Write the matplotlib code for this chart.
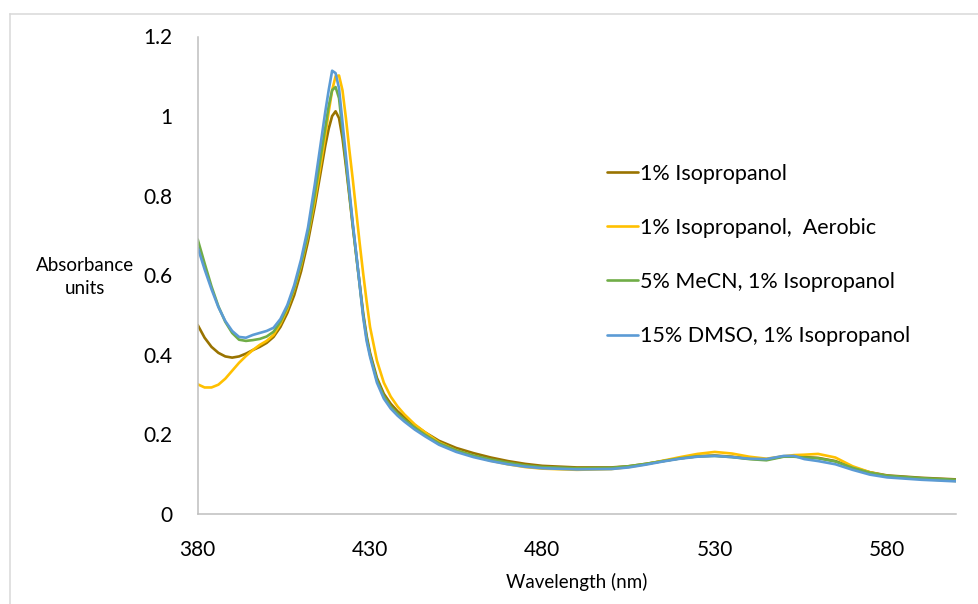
import matplotlib
matplotlib.use("Agg")
import matplotlib.pyplot as plt
from matplotlib.lines import Line2D
from matplotlib.ticker import FuncFormatter

plt.rcParams['font.family'] = ['Lato', 'DejaVu Sans']

# -----------------------------
# Data
# -----------------------------
wavelength = [380, 382, 384, 386, 388, 390, 392, 394, 396, 398, 400, 402, 404, 406, 408, 410, 412, 414, 416,
              417, 418, 419, 420, 421, 422, 423, 424, 425, 426, 427, 428, 429, 430,
              432, 434, 436, 438, 440, 443, 446,
              450, 455, 460, 465, 470, 475, 480, 490, 500,
              505, 510, 515, 520, 525, 530, 535, 540, 545, 550, 553, 556,
              560, 565, 570, 575, 580, 590, 600]

iso_1 = [0.475, 0.443, 0.420, 0.405, 0.396, 0.393, 0.396, 0.403, 0.412, 0.420, 0.430, 0.445, 0.470, 0.505, 0.550, 0.610, 0.685, 0.775, 0.875,
         0.925, 0.968, 1.000, 1.012, 0.995, 0.945, 0.875, 0.800, 0.722, 0.650, 0.578, 0.505, 0.448, 0.405,
         0.342, 0.302, 0.277, 0.258, 0.243, 0.223, 0.205,
         0.184, 0.166, 0.153, 0.142, 0.133, 0.126, 0.121, 0.117, 0.117,
         0.120, 0.126, 0.133, 0.140, 0.145, 0.147, 0.144, 0.139, 0.137, 0.145, 0.145, 0.143,
         0.141, 0.133, 0.117, 0.105, 0.097, 0.091, 0.087]

iso_aerobic = [0.326, 0.318, 0.318, 0.325, 0.340, 0.360, 0.380, 0.397, 0.412, 0.425, 0.435, 0.450, 0.478, 0.515, 0.565, 0.625, 0.700, 0.790, 0.895,
               0.950, 1.010, 1.065, 1.100, 1.102, 1.065, 0.995, 0.915, 0.840, 0.760, 0.680, 0.605, 0.535, 0.470,
               0.385, 0.330, 0.295, 0.270, 0.250, 0.225, 0.205,
               0.180, 0.160, 0.146, 0.134, 0.125, 0.118, 0.114, 0.111, 0.113,
               0.118, 0.125, 0.134, 0.143, 0.151, 0.156, 0.152, 0.144, 0.139, 0.145, 0.148, 0.149,
               0.151, 0.142, 0.120, 0.105, 0.095, 0.088, 0.083]

mecn_5 = [0.690, 0.630, 0.572, 0.522, 0.483, 0.455, 0.438, 0.435, 0.437, 0.440, 0.446, 0.458, 0.483, 0.520, 0.568, 0.630, 0.705, 0.805, 0.915,
          0.970, 1.025, 1.065, 1.073, 1.045, 0.965, 0.885, 0.805, 0.725, 0.650, 0.575, 0.500, 0.442, 0.400,
          0.336, 0.296, 0.270, 0.252, 0.237, 0.217, 0.199,
          0.178, 0.160, 0.147, 0.137, 0.129, 0.122, 0.118, 0.115, 0.116,
          0.120, 0.126, 0.133, 0.140, 0.145, 0.146, 0.143, 0.138, 0.135, 0.144, 0.144, 0.142,
          0.140, 0.132, 0.116, 0.104, 0.096, 0.090, 0.086]

dmso_15 = [0.670, 0.615, 0.565, 0.520, 0.485, 0.460, 0.445, 0.443, 0.450, 0.455, 0.460, 0.468, 0.490, 0.525, 0.575, 0.640, 0.720, 0.830, 0.950,
           1.010, 1.065, 1.114, 1.108, 1.070, 0.985, 0.900, 0.815, 0.730, 0.655, 0.575, 0.495, 0.435, 0.395,
           0.330, 0.290, 0.265, 0.247, 0.232, 0.212, 0.195,
           0.174, 0.156, 0.143, 0.133, 0.125, 0.119, 0.115, 0.112, 0.113,
           0.117, 0.124, 0.132, 0.139, 0.144, 0.146, 0.143, 0.139, 0.138, 0.146, 0.146, 0.138,
           0.133, 0.125, 0.111, 0.099, 0.092, 0.086, 0.082]

series_labels = ["1% Isopropanol", "1% Isopropanol,  Aerobic", "5% MeCN, 1% Isopropanol", "15% DMSO, 1% Isopropanol"]
series_colors = ["#997300", "#FFC000", "#70AD47", "#5B9BD5"]

x_ticks = [380, 430, 480, 530, 580]
y_ticks = [0, 0.2, 0.4, 0.6, 0.8, 1.0, 1.2]

# -----------------------------
# Figure
# -----------------------------
W, H = 979, 604
fig = plt.figure(figsize=(W / 100, H / 100), dpi=100)
ax = fig.add_axes([197.7 / W, 1 - 514 / H, (956 - 197.7) / W, (514 - 36.5) / H])

for y, lab, col in zip([iso_1, iso_aerobic, mecn_5, dmso_15], series_labels, series_colors):
    ax.plot(wavelength, y, color=col, lw=1.9, label=lab, solid_capstyle='round', solid_joinstyle='round')

ax.set_xlim(380, 600)
ax.set_ylim(0, 1.2)
ax.set_xticks(x_ticks)
ax.set_yticks(y_ticks)
ax.yaxis.set_major_formatter(FuncFormatter(lambda v, p: f"{v:g}"))
ax.tick_params(length=0, labelsize=15, colors='black')
ax.tick_params(axis='y', pad=18)
ax.tick_params(axis='x', pad=19)

for s in ['top', 'right']:
    ax.spines[s].set_visible(False)
for s in ['left', 'bottom']:
    ax.spines[s].set_color('#BFBFBF')
    ax.spines[s].set_linewidth(1.1)

ax.set_xlabel("Wavelength (nm)", fontsize=13.5, labelpad=9)
fig.text(85 / W, 1 - 277 / H, "Absorbance\nunits", fontsize=13.5, ha='center', va='center', linespacing=1.4)

leg = ax.legend(loc='upper left', bbox_to_anchor=(607 / W, 1 - 164 / H), bbox_transform=fig.transFigure,
                frameon=False, fontsize=15.5, handlelength=1.45, handletextpad=0.1,
                labelspacing=1.58, borderpad=0, borderaxespad=0)

# chart-area border (only top and left edges are visible)
fig.add_artist(Line2D([9.5 / W, 9.5 / W], [0, 1 - 13.5 / H], transform=fig.transFigure, color='#D9D9D9', lw=1.1))
fig.add_artist(Line2D([9.5 / W, 1], [1 - 13.5 / H, 1 - 13.5 / H], transform=fig.transFigure, color='#D9D9D9', lw=1.1))

fig.savefig("out.png", dpi=100)
